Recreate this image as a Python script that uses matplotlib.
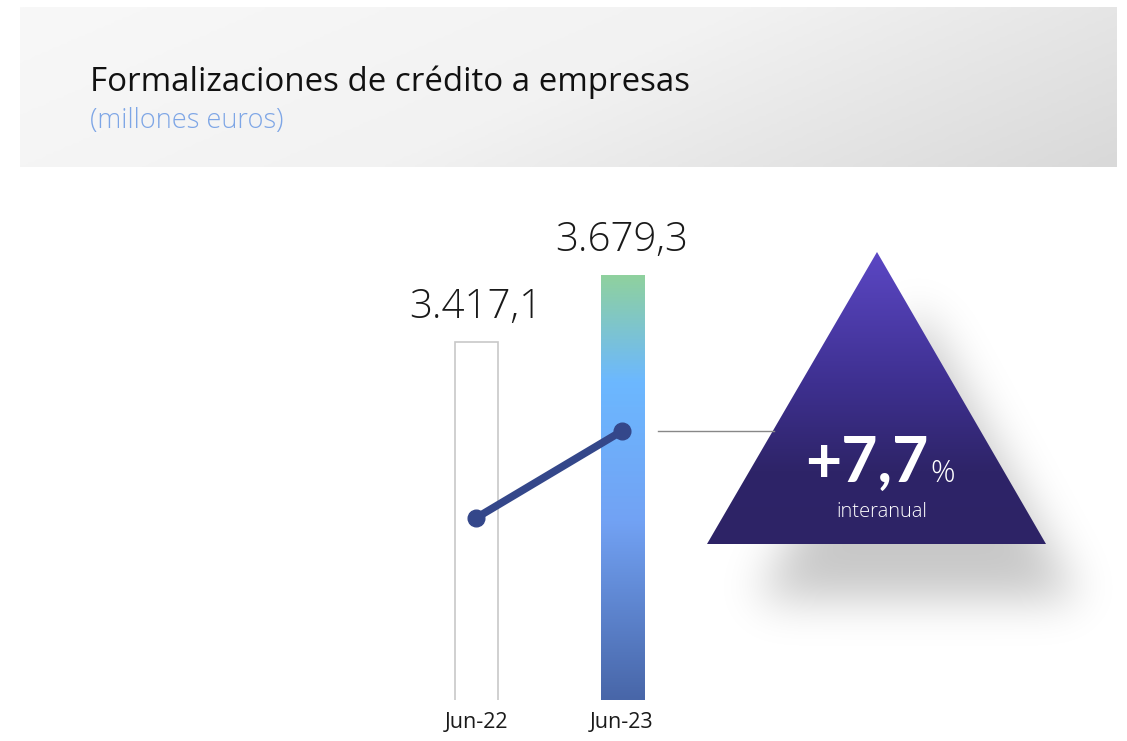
import numpy as np
import matplotlib
matplotlib.use("Agg")
import matplotlib.pyplot as plt
from matplotlib.colors import LinearSegmentedColormap
from matplotlib.patches import Polygon
from matplotlib.path import Path

# data
categories = ["Jun-22", "Jun-23"]
values = [3417.1, 3679.3]
title = "Formalizaciones de crédito a empresas"
subtitle = "(millones euros)"
growth_label = "interanual"

W, H = 1127, 741
fig = plt.figure(figsize=(W / 100, H / 100), dpi=100)

# background layer in pixel coordinates
bg = fig.add_axes([0, 0, 1, 1])
bg.set_xlim(0, W)
bg.set_ylim(H, 0)
bg.axis("off")

# header band with soft grey gradient
gx, gy = np.meshgrid(np.linspace(0, 1, 300), np.linspace(0, 1, 60))
band_cmap = LinearSegmentedColormap.from_list("band", ["#f8f8f8", "#f2f2f2", "#d9d9d9"])
bg.imshow(gx * 0.75 + gy * 0.25, cmap=band_cmap, extent=(20, 1117, 167, 7),
          aspect="auto", vmin=0, vmax=1, zorder=0)
bg.text(90, 91, title, fontsize=23.8, family="Open Sans", color="#111111", va="baseline")
bg.text(90, 128, subtitle, fontsize=19.5, family="Open Sans", weight=300,
        color="#7ea6e6", va="baseline")

# triangle with drop shadow
tri = np.array([[877, 252], [707, 544], [1046, 544]])
sx, sy = np.meshgrid(np.arange(600, 1127), np.arange(220, 741))
shadow_tri = Path(tri * np.array([0.95, 1.0]) + np.array([85, 55]))
mask = shadow_tri.contains_points(np.c_[sx.ravel(), sy.ravel()]).reshape(sx.shape).astype(float)
k = np.exp(-0.5 * (np.arange(-70, 71) / 22.0) ** 2)
k /= k.sum()
mask = np.apply_along_axis(lambda r: np.convolve(r, k, mode="same"), 1, mask)
mask = np.apply_along_axis(lambda c: np.convolve(c, k, mode="same"), 0, mask)
shadow = np.zeros(mask.shape + (4,))
shadow[..., 3] = mask * 0.22
bg.imshow(shadow, extent=(600, 1127, 741, 220), aspect="auto", zorder=1, interpolation="bilinear")

tri_cmap = LinearSegmentedColormap.from_list(
    "tri", [(0, "#5b47c4"), (0.45, "#3e3090"), (0.75, "#2e2468"), (1, "#2d2366")])
grad = np.linspace(0, 1, 256).reshape(-1, 1)
im = bg.imshow(grad, cmap=tri_cmap, extent=(707, 1046, 544, 252), aspect="auto", zorder=2)
tri_patch = Polygon(tri, closed=True, facecolor="none", edgecolor="none")
bg.add_patch(tri_patch)
im.set_clip_path(tri_patch)

pct = (values[1] / values[0] - 1) * 100
bg.text(928, 482, f"+{pct:.1f}".replace(".", ","), fontsize=45, family="Lato",
        weight="bold", color="white", ha="right", va="baseline", zorder=3)
bg.text(930, 482, "%", fontsize=22, family="Open Sans", weight=300, color="white",
        ha="left", va="baseline", zorder=3)
bg.text(882, 517, growth_label, fontsize=14.5, family="Open Sans", weight=300, color="white",
        ha="center", va="baseline", zorder=3)

# bars
left_px, right_px, top_px, bot_px = 400, 700, 200, 700
ax = fig.add_axes([left_px / W, (H - bot_px) / H, (right_px - left_px) / W, (bot_px - top_px) / H])
ax.patch.set_alpha(0)
ylim = (2015.9, 3972.9)
x = np.arange(len(categories))
bw = 0.2945
bars = ax.bar(x, values, width=bw, bottom=0, color=["white", "none"],
              edgecolor=["#c8c8c8", "none"], linewidth=1.2)
bar_cmap = LinearSegmentedColormap.from_list(
    "bar", [(0, "#4866a8"), (0.42, "#72a2f4"), (0.75, "#6cb8ff"), (1, "#8fd19e")])
gim = ax.imshow(grad[::-1], cmap=bar_cmap, aspect="auto",
                extent=(x[1] - bw / 2, x[1] + bw / 2, ylim[0], values[1]), zorder=1)
gim.set_clip_path(bars[1])
ax.set_xlim(-0.5205, 1.534)
ax.set_ylim(*ylim)

for xi, v in zip(x, values):
    lab = f"{v:,.1f}".replace(",", "X").replace(".", ",").replace("X", ".")
    ax.annotate(lab, (xi, v), xytext=(0, 17), textcoords="offset points", ha="center",
                va="baseline", fontsize=29, family="Open Sans", weight=300, color="#1a1a1a")

ax.set_xticks(x, categories, fontsize=15.5, family="Open Sans", color="#1a1a1a")
ax.tick_params(axis="x", length=0, pad=9)
ax.set_yticks([])
for s in ax.spines.values():
    s.set_visible(False)

# trend line on its own scale
ax2 = ax.twinx()
ax2.set_ylim(2868.6, 4375.5)
ax2.plot(x, values, color="#34478a", lw=5.5, marker="o", markersize=12, solid_capstyle="round")
ax2.plot([1.247, 2.041], [values[1], values[1]], color="#888888", lw=1, clip_on=False)
ax2.axis("off")

fig.savefig("out.png", dpi=100)
